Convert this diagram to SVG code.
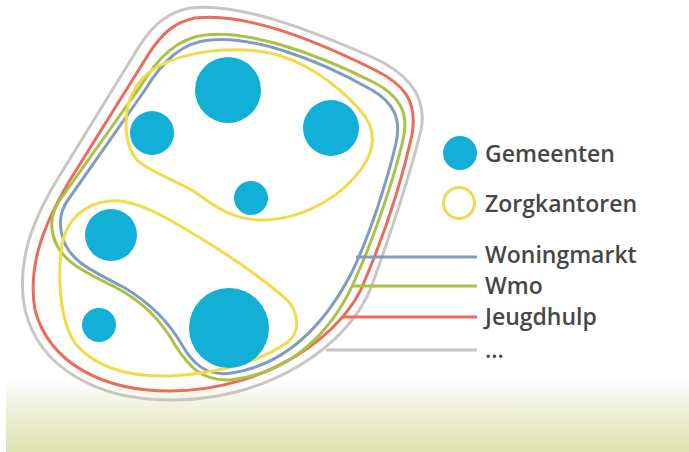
<svg xmlns="http://www.w3.org/2000/svg" width="689" height="452" viewBox="0 0 689 452">
  <defs>
    <linearGradient id="ground" x1="0" y1="0" x2="0" y2="1">
      <stop offset="0" stop-color="#ffffff"/>
      <stop offset="0.45" stop-color="#eef0d8"/>
      <stop offset="1" stop-color="#dce2b0"/>
    </linearGradient>
  </defs>
  <style>
    .gem { fill: #12b0d6; }
    .zorg { fill: none; stroke: #f2da4a; stroke-width: 3; }
    .ring { fill: none; stroke-width: 3; stroke-linejoin: round; }
    .gray { stroke: #c9c5c1; }
    .red { stroke: #ea6c5b; }
    .green { stroke: #a9c245; }
    .blue { stroke: #809dbe; }
    .lbl { font-family: "Open Sans", Lato, "Liberation Sans", sans-serif; font-size: 23px; font-weight: 600; fill: #474747; }
  </style>
  <rect x="0" y="0" width="689" height="452" fill="#ffffff"/>
  <rect x="6" y="378" width="683" height="74" fill="url(#ground)"/>

  <g id="connectors">
    <path id="ring-gray" class="ring gray" d="M190,8 C240,2 315,32 372,57 C405,72 428,95 421,130 C410,175 390,235 372,285 C350,345 270,400 170,400 C100,400 40,370 25,310 C15,260 35,215 60,175 L140,45 C155,22 170,12 190,8 Z"/>
    <path id="ring-red" class="ring red" d="M195,18 C245,12 315,40 375,70 C403,84 418,100 412,135 C402,180 384,235 365,280 C345,335 265,391 170,391 C105,391 50,365 35,310 C27,265 45,222 70,180 L148,55 C162,33 175,22 195,18 Z"/>
    <path id="ring-green" class="ring green" d="M205,35 C245,30 310,50 375,83 C398,95 410,112 403,140 C395,175 375,235 357,275 C342,312 305,372 230,380 C200,381 188,365 175,345 C160,318 140,300 115,287 C85,272 60,262 53,235 C49,218 55,207 62,197 L140,87 C158,57 178,38 205,35 Z"/>
    <path id="ring-blue" class="ring blue" d="M210,40 C250,36 312,56 372,90 C392,102 402,117 396,143 C388,178 370,235 352,272 C335,305 300,362 232,373 C205,377 192,362 182,345 C168,320 148,302 125,288 C95,272 68,262 62,235 C58,218 62,208 70,197 L145,90 C163,60 183,42 210,40 Z"/>
    <line class="ring blue" x1="356" y1="257" x2="477" y2="257"/>
    <line class="ring green" x1="351" y1="286" x2="477" y2="286"/>
    <line class="ring red" x1="342" y1="317" x2="477" y2="317"/>
    <line class="ring gray" x1="326" y1="350" x2="477" y2="350"/>
  </g>

  <g id="zorgkantoor-top">
    <path class="zorg" d="M157,67 C185,52 225,46 265,52 C300,58 335,82 360,110 C376,128 376,148 362,168 C345,192 310,218 265,220 C235,221 215,207 195,192 C175,180 150,172 137,160 C126,148 124,125 128,105 C133,88 143,75 157,67 Z"/>
  </g>
  <g id="zorgkantoor-bottom">
    <path class="zorg" d="M110,201 C125,199 145,206 170,220 C210,243 255,272 285,298 C300,312 300,332 288,342 C260,362 215,374 170,376 C130,377 95,368 75,343 C58,318 58,270 62,245 C66,220 85,203 110,201 Z"/>
  </g>

  <g id="gemeenten">
    <circle id="gem-1" class="gem" cx="228" cy="90" r="33"/>
    <circle id="gem-2" class="gem" cx="152" cy="133" r="22"/>
    <circle id="gem-3" class="gem" cx="331" cy="128" r="28"/>
    <circle id="gem-4" class="gem" cx="251" cy="198" r="17"/>
    <circle id="gem-5" class="gem" cx="111" cy="235" r="26"/>
    <circle id="gem-6" class="gem" cx="99" cy="325" r="17"/>
    <circle id="gem-7" class="gem" cx="229" cy="328" r="40"/>
  </g>

  <g id="legend-gemeenten">
    <circle class="gem" cx="460" cy="153" r="17"/>
    <text class="lbl" x="485" y="162">Gemeenten</text>
  </g>
  <g id="legend-zorgkantoren">
    <circle class="zorg" cx="459" cy="203" r="15.5"/>
    <text class="lbl" x="485" y="212">Zorgkantoren</text>
  </g>
  <g id="legend-woningmarkt">
    <text class="lbl" x="485" y="263">Woningmarkt</text>
  </g>
  <g id="legend-wmo">
    <text class="lbl" x="485" y="294">Wmo</text>
  </g>
  <g id="legend-jeugdhulp">
    <text class="lbl" x="485" y="325">Jeugdhulp</text>
  </g>
  <g id="legend-more">
    <text class="lbl" x="485" y="358">...</text>
  </g>
</svg>
